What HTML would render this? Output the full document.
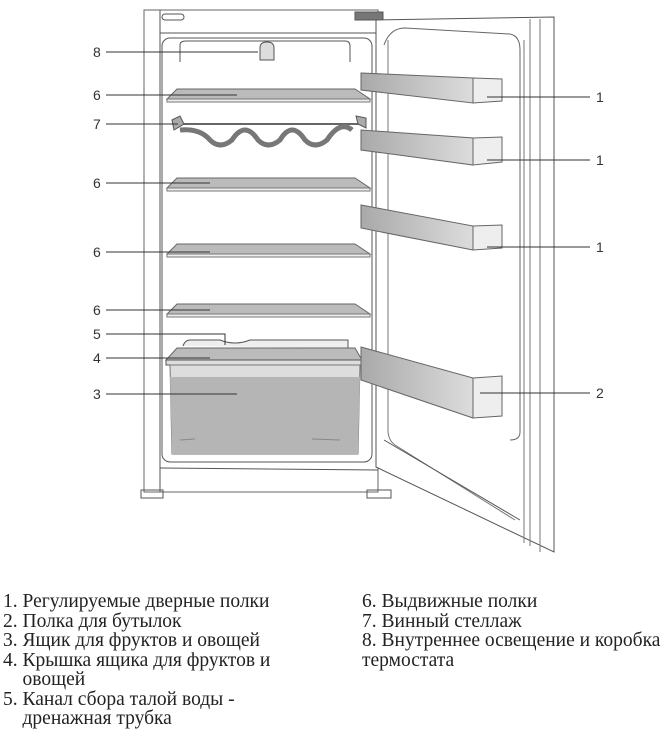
<!DOCTYPE html>
<html><head><meta charset="utf-8"><style>
body{margin:0;background:#fff;width:670px;height:738px;overflow:hidden;position:relative;font-family:"Liberation Serif",serif;}
.t{position:absolute;font-size:19.5px;line-height:19.5px;color:#222;white-space:nowrap;}
svg{position:absolute;left:0;top:0}
</style></head><body>
<svg width="670" height="560" viewBox="0 0 670 560" font-family="Liberation Sans, sans-serif" font-size="14" fill="none" stroke="#555" stroke-width="1">
<defs>
<linearGradient id="g" x1="0" x2="1" y1="0" y2="0"><stop offset="0" stop-color="#a9a9a9"/><stop offset="1" stop-color="#dcdcdc"/></linearGradient>
</defs>
<!-- cabinet -->
<rect x="144" y="10" width="234" height="482" stroke="#666"/>
<line x1="160" y1="10" x2="160" y2="492"/>
<line x1="160" y1="33" x2="378" y2="33"/>
<rect x="162" y="14" width="22" height="6" rx="3"/>
<rect x="162" y="38" width="210" height="424" rx="8"/>
<path d="M180 62 V45 Q180 41 186 41 H345 Q350 41 350 46 V62"/>
<line x1="160" y1="468" x2="378" y2="470"/>
<rect x="141" y="490" width="22" height="8" />
<rect x="367" y="490" width="24" height="8"/>
<rect x="355" y="12" width="28" height="8" fill="#777" stroke="#555"/>
<!-- light -->
<path d="M260 60 V48 Q260 42 267 42 Q274 42 274 48 V60 Z" fill="#ddd"/>
<!-- shelves -->
<g fill="#bbb" stroke="#666">
<path d="M177 89 H355 L370 99 H167 Z"/>
<path d="M177 178 H355 L370 188 H167 Z"/>
<path d="M177 244 H355 L370 254 H167 Z"/>
<path d="M177 304 H355 L370 314 H167 Z"/>
</g>
<g fill="#eee" stroke="#777">
<rect x="167" y="99" width="203" height="3"/>
<rect x="167" y="188" width="203" height="3"/>
<rect x="167" y="254" width="203" height="3"/>
<rect x="167" y="314" width="203" height="3"/>
</g>
<!-- wine rack -->
<line x1="178" y1="124" x2="362" y2="124" stroke="#666" stroke-width="2"/>
<path d="M180 130 Q200 128 210 140 Q220 150 232 140 Q245 120 258 140 Q268 150 280 140 Q292 120 305 140 Q315 150 327 140 Q340 120 352 130" stroke="#777" stroke-width="5"/>
<path d="M172 120 L180 116 L184 124 L174 130 Z" fill="#aaa"/>
<path d="M356 116 L366 118 L366 128 L358 124 Z" fill="#aaa"/>
<!-- drain channel -->
<path d="M183 346 Q185 340 190 340 H220 Q235 346 250 340 H348 L348 348" fill="#eee"/>
<!-- crisper -->
<path d="M177 348 H355 L362 360 H166 Z" fill="#bbb" stroke="#666"/>
<rect x="166" y="360" width="196" height="5" fill="#ddd"/>
<path d="M170 365 H360 L358 454 H172 Z" fill="#ddd" stroke="#777"/>
<path d="M170 377 H360 L358 454 H172 Z" fill="#b5b5b5" stroke="none"/>
<path d="M180 440 L195 439 M312 439 L340 440" stroke="#888"/>
<!-- door -->
<path d="M376 20 L554 17 L554 552 L376 467 Z" fill="#fff" stroke="#555"/>
<path d="M540 19 L540 552 M530 19 L530 546 M524 40 L524 543" stroke="#777"/>
<path d="M384 45 Q390 28 405 28 L510 34 Q520 36 520 50 L520 432 Q520 440 510 440" stroke="#666"/>
<path d="M388 40 L388 430 Q388 440 395 445 L515 520" stroke="#777"/>
<path d="M384 440 L520 520"/>
<!-- door bins -->
<g stroke="#666">
<path d="M361 73 L473 78 L473 103 L361 90 Z" fill="url(#g)"/>
<path d="M473 78 L502 79 L502 101 L473 103 Z" fill="#eee"/>
<path d="M361 130 L473 138 L473 165 L361 150 Z" fill="url(#g)"/>
<path d="M473 138 L502 137 L502 162 L473 165 Z" fill="#eee"/>
<path d="M361 205 L473 226 L473 250 L361 228 Z" fill="url(#g)"/>
<path d="M473 226 L502 225 L502 248 L473 250 Z" fill="#eee"/>
<path d="M361 347 L473 378 L473 418 L361 380 Z" fill="url(#g)"/>
<path d="M473 378 L502 376 L502 416 L473 418 Z" fill="#eee"/>
</g>
<!-- callout lines -->
<g stroke="#333">
<line x1="106" y1="52" x2="258" y2="52"/>
<line x1="106" y1="95" x2="237" y2="95"/>
<line x1="106" y1="124" x2="178" y2="124"/>
<line x1="106" y1="183" x2="210" y2="183"/>
<line x1="106" y1="252" x2="210" y2="252"/>
<line x1="106" y1="310" x2="210" y2="310"/>
<polyline points="106,334 225,334 225,345"/>
<line x1="106" y1="358" x2="210" y2="358"/>
<line x1="106" y1="394" x2="237" y2="394"/>
<line x1="487" y1="97" x2="590" y2="97"/>
<line x1="487" y1="160" x2="590" y2="160"/>
<line x1="487" y1="247" x2="590" y2="247"/>
<line x1="480" y1="393" x2="590" y2="393"/>
</g>
<g fill="#333" stroke="none">
<text x="93" y="57">8</text><text x="93" y="100">6</text><text x="93" y="129">7</text>
<text x="93" y="188">6</text><text x="93" y="257">6</text><text x="93" y="315">6</text>
<text x="93" y="339">5</text><text x="93" y="363">4</text><text x="93" y="399">3</text>
<text x="596" y="102">1</text><text x="596" y="165">1</text><text x="596" y="252">1</text><text x="596" y="398">2</text>
</g>
</svg>
<div class="t" style="left:3px;top:592px">1. Регулируемые дверные полки<br>2. Полка для бутылок<br>3. Ящик для фруктов и овощей<br>4. Крышка ящика для фруктов и<br>&nbsp;&nbsp;&nbsp;&nbsp;овощей<br>5. Канал сбора талой воды -<br>&nbsp;&nbsp;&nbsp;&nbsp;дренажная трубка</div>
<div class="t" style="left:362px;top:592px">6. Выдвижные полки<br>7. Винный стеллаж<br>8. Внутреннее освещение и коробка<br>термостата</div>
</body></html>
